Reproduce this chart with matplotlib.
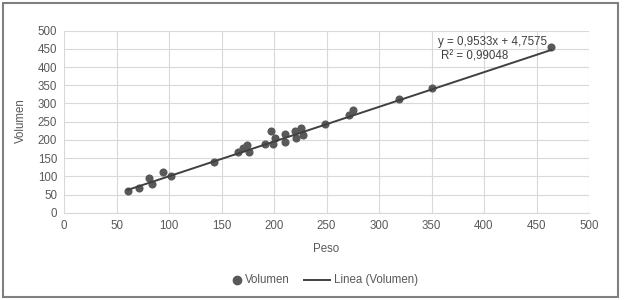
import matplotlib
matplotlib.use("Agg")
import matplotlib.pyplot as plt
from matplotlib.patches import Rectangle
from matplotlib.lines import Line2D
import numpy as np

plt.rcParams['font.family'] = ['Liberation Sans', 'DejaVu Sans']

peso = [61, 71, 81, 84, 94, 102, 143, 166, 170, 174, 176, 191, 197, 199, 201,
        210, 210, 220, 221, 226, 228, 249, 271, 275, 319, 350, 464]
volumen = [60, 68, 95, 80, 113, 100, 140, 166, 177, 187, 166, 190, 225, 189, 204,
           195, 215, 224, 206, 233, 213, 243, 269, 282, 312, 342, 456]
slope = 0.9533
intercept = 4.7575
eq_text = "y = 0,9533x + 4,7575"
r2_text = "R² = 0,99048"
x_ticks = [0, 50, 100, 150, 200, 250, 300, 350, 400, 450, 500]
y_ticks = [0, 50, 100, 150, 200, 250, 300, 350, 400, 450, 500]

W, H = 624, 300
fig = plt.figure(figsize=(W / 100, H / 100), dpi=100)
ax = fig.add_axes([64 / W, 1 - 212.7 / H, (589 - 64) / W, (212.7 - 30.7) / H])

txt_col = '#595959'
grid_col = '#d9d9d9'
pt_col = '#595959'
line_col = '#404040'
fs = 8.3

ax.set_xlim(0, 500)
ax.set_ylim(0, 500)
ax.set_xticks(x_ticks)
ax.set_yticks(y_ticks)
ax.grid(True, color=grid_col, linewidth=0.8)
ax.set_axisbelow(True)
for s in ['top', 'right', 'left']:
    ax.spines[s].set_visible(False)
ax.spines['bottom'].set_color(grid_col)
ax.spines['bottom'].set_linewidth(0.8)
ax.tick_params(axis='both', length=0, labelsize=fs, labelcolor=txt_col)
ax.tick_params(axis='x', pad=5)
ax.tick_params(axis='y', pad=5)

ax.scatter(peso, volumen, s=34, color=pt_col, zorder=3, linewidths=0)
xl = np.array([min(peso), max(peso)])
ax.plot(xl, slope * xl + intercept, color=line_col, linewidth=1.4, zorder=4)

ax.text(356, 469, eq_text, fontsize=fs, color='#404040', va='center', ha='left')
ax.text(359, 428, r2_text, fontsize=fs, color='#404040', va='center', ha='left')

fig.text(326 / W, 1 - 249 / H, "Peso", fontsize=fs, color=txt_col, ha='center', va='center')
fig.text(21 / W, 1 - 121 / H, "Volumen", fontsize=fs, color=txt_col, ha='center', va='center',
         rotation=90)

# legend (manual placement)
ly = 1 - 280 / H
fig.add_artist(Line2D([237 / W], [ly], marker='o', linestyle='none', color=pt_col,
                      markersize=6, transform=fig.transFigure))
fig.text(245 / W, ly, "Volumen", fontsize=fs, color=txt_col, ha='left', va='center')
fig.add_artist(Line2D([304 / W, 330 / W], [ly, ly], color=line_col, linewidth=1.4,
                      transform=fig.transFigure))
fig.text(334 / W, ly, "Linea (Volumen)", fontsize=fs, color=txt_col, ha='left', va='center')

fig.patches.append(Rectangle((3 / W, 3 / H), (618 - 3) / W, (297 - 3) / H,
                             transform=fig.transFigure, fill=False,
                             edgecolor='#7f7f7f', linewidth=1.5))

fig.savefig("out.png", dpi=100, facecolor='white')
